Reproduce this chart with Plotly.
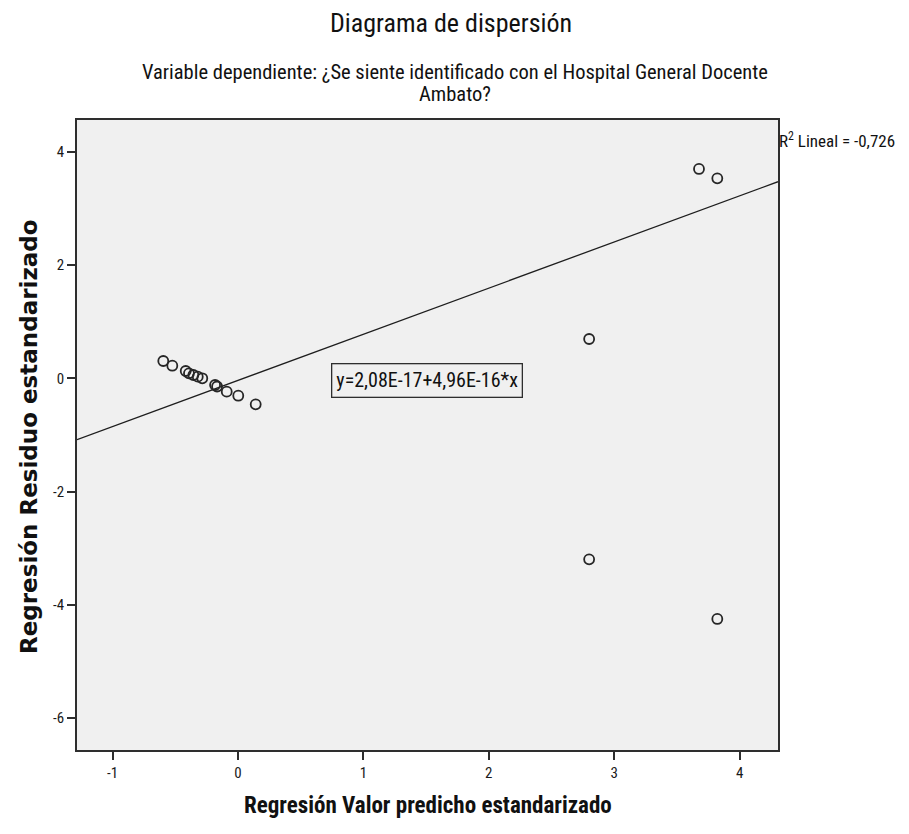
import plotly.graph_objects as go

# ---------------- data ----------------
pred_std = [-0.596, -0.524, -0.417, -0.391, -0.356, -0.321, -0.285, -0.183, -0.167,
            -0.090, 0.002, 0.141, 2.80, 2.80, 3.676, 3.822, 3.822]
resid_std = [0.307, 0.224, 0.131, 0.090, 0.060, 0.030, 0.002, -0.117, -0.143,
             -0.235, -0.306, -0.458, 0.696, -3.196, 3.700, 3.535, -4.250]
fit_intercept = -0.035
fit_slope = 0.815
x_ticks = [-1, 0, 1, 2, 3, 4]
x_tick_labels = ["-1", "0", "1", "2", "3", "4"]
y_ticks = [-6, -4, -2, 0, 2, 4]
y_tick_labels = ["-6", "-4", "-2", "0", "2", "4"]
x_range = [-1.284, 4.306]
y_range = [-6.565, 4.565]

title_text = "Diagrama de dispersión"
subtitle_lines = ["Variable dependiente: ¿Se siente identificado con el Hospital General Docente",
                  "Ambato?"]
x_title = "Regresión Valor predicho estandarizado"
y_title = "Regresión Residuo estandarizado"
eq_text = "y=2,08E-17+4,96E-16*x"
r2_text = "R<sup>2</sup> Lineal = -0,726"

# ---------------- layout geometry (page pixels; body has an 8px offset) ----------------
OFF = 8
W, H = 909, 834
FRAME_L, FRAME_R, FRAME_T, FRAME_B = 77, 778, 120, 750
ML = FRAME_L - OFF
MT = FRAME_T - OFF
MR = W - (FRAME_R - OFF)
MB = H - (FRAME_B - OFF)
PW, PH = W - ML - MR, H - MT - MB

def px(xp):
    return (xp - OFF - ML) / PW

def py(yp):
    return (H - MB - (yp - OFF)) / PH

TXT = "Roboto Condensed, Liberation Sans Narrow, Liberation Sans, Arial, sans-serif"

fig = go.Figure()

fit_x = [x_range[0], x_range[1]]
fit_y = [fit_intercept + fit_slope * v for v in fit_x]
fig.add_trace(go.Scatter(x=fit_x, y=fit_y, mode="lines",
                         line=dict(color="#1e1e1e", width=1.3),
                         hoverinfo="skip", showlegend=False))

fig.add_trace(go.Scatter(x=pred_std, y=resid_std, mode="markers",
                         marker=dict(symbol="circle-open", size=10,
                                     color="#262626", line=dict(width=1.8)),
                         showlegend=False))

axis_common = dict(showgrid=False, zeroline=False, showline=True, mirror=True,
                   linecolor="#2e2e2e", linewidth=1.5, ticks="outside",
                   ticklen=8, tickwidth=1.5, tickcolor="#2e2e2e",
                   tickfont=dict(family=TXT, size=15, color="#1a1a1a"))

fig.update_xaxes(range=x_range, tickvals=x_ticks, ticktext=x_tick_labels, **axis_common)
fig.update_yaxes(range=y_range, tickvals=y_ticks, ticktext=y_tick_labels, **axis_common)

annotations = [
    dict(text=title_text, x=px(451), y=py(23), xref="paper", yref="paper",
         showarrow=False, xanchor="center", yanchor="middle",
         font=dict(family=TXT, size=26, color="#111111")),
    dict(text=subtitle_lines[0], x=px(455), y=py(72), xref="paper", yref="paper",
         showarrow=False, xanchor="center", yanchor="middle",
         font=dict(family=TXT, size=20.5, color="#111111")),
    dict(text=subtitle_lines[1], x=px(455), y=py(94), xref="paper", yref="paper",
         showarrow=False, xanchor="center", yanchor="middle",
         font=dict(family=TXT, size=20.5, color="#111111")),
    dict(text="<b>" + x_title + "</b>", x=px(428), y=py(806), xref="paper", yref="paper",
         showarrow=False, xanchor="center", yanchor="middle",
         font=dict(family=TXT, size=23, color="#111111")),
    dict(text="<b>" + y_title + "</b>", x=px(29), y=py(437), xref="paper", yref="paper",
         showarrow=False, xanchor="center", yanchor="middle", textangle=-90,
         font=dict(family="DejaVu Sans, Verdana, sans-serif", size=23, color="#111111")),
    dict(text=r2_text, x=px(777), y=py(140), xref="paper", yref="paper",
         showarrow=False, xanchor="left", yanchor="middle",
         font=dict(family=TXT, size=17, color="#111111")),
    dict(text=eq_text, x=1.51, y=-0.03, xref="x", yref="y",
         showarrow=False, xanchor="center", yanchor="middle",
         bordercolor="#2e2e2e", borderwidth=1.3, borderpad=4, bgcolor="#f0f0f0",
         font=dict(family=TXT, size=20, color="#111111")),
]

fig.update_layout(
    width=W, height=H,
    margin=dict(l=ML, r=MR, t=MT, b=MB),
    paper_bgcolor="white", plot_bgcolor="#f0f0f0",
    showlegend=False, annotations=annotations,
)

fig.write_html("out.html")
